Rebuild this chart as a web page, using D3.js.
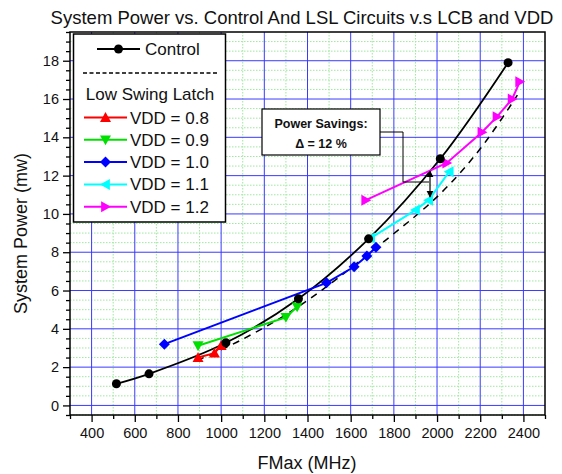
<!DOCTYPE html>
<html>
<head>
<meta charset="utf-8">
<script src="https://cdn.jsdelivr.net/npm/d3@7"></script>
<style>
  body { margin: 0; background: #fff; }
  svg text { font-family: "Liberation Sans", Arial, sans-serif; fill: #111; }
</style>
</head>
<body>
<svg id="chart" width="562" height="474"></svg>
<script>
// data (FMax in MHz, power in mW)
var control = [[515, 1.13], [666, 1.65], [1022, 3.27], [1358, 5.57], [1683, 8.7], [2015, 12.88], [2329, 17.9]];
var vdd08 = [[893, 2.5], [969, 2.73], [1000, 3.12]];
var vdd09 = [[893, 3.12], [1300, 4.6], [1352, 5.15]];
var vdd10 = [[737, 3.2], [1488, 6.4], [1616, 7.24], [1675, 7.8], [1717, 8.26]];
var vdd11 = [[1692, 8.74], [1900, 10.2], [1961, 10.72], [2056, 12.2]];
var vdd12 = [[1670, 10.72], [2045, 12.66], [2208, 14.27], [2278, 15.08], [2348, 16.0], [2383, 16.9]];
var lslFit = [[890, 2.35], [1090, 3.4], [1370, 5.25], [1770, 8.7], [2010, 11.0], [2200, 13.4], [2372, 16.2]];

var xTicks = [400, 600, 800, 1000, 1200, 1400, 1600, 1800, 2000, 2200, 2400];
var yTicks = [0, 2, 4, 6, 8, 10, 12, 14, 16, 18];

var series = [
  { name: "VDD = 0.8", data: vdd08, color: "#ff0000", sym: "up" },
  { name: "VDD = 0.9", data: vdd09, color: "#00e000", sym: "down" },
  { name: "VDD = 1.0", data: vdd10, color: "#0000ff", sym: "diamond" },
  { name: "VDD = 1.1", data: vdd11, color: "#00ffff", sym: "left" },
  { name: "VDD = 1.2", data: vdd12, color: "#ff00ff", sym: "right" }
];

var svg = d3.select("#chart");
var pLeft = 70, pRight = 545, pTop = 32, pBottom = 415;

var x = d3.scaleLinear().domain([300, 2500]).range([pLeft, pRight]);
var y = d3.scaleLinear().domain([-0.5, 19.5]).range([pBottom, pTop]);

// grid
var grid = svg.append("g");
grid.selectAll(".vminor").data(d3.range(500, 2500, 200)).enter().append("line")
  .attr("x1", d => x(d)).attr("x2", d => x(d)).attr("y1", pTop).attr("y2", pBottom)
  .attr("stroke", "#9ee89e").attr("stroke-width", 1).attr("stroke-dasharray", "1.5,1.5");
grid.selectAll(".hminor").data(d3.range(-0.5, 19.5, 0.5).filter(d => d % 2 != 0)).enter().append("line")
  .attr("x1", pLeft).attr("x2", pRight).attr("y1", d => y(d)).attr("y2", d => y(d))
  .attr("stroke", "#9ee89e").attr("stroke-width", 1).attr("stroke-dasharray", "1.5,1.5");
grid.selectAll(".vmajor").data(xTicks).enter().append("line")
  .attr("x1", d => x(d)).attr("x2", d => x(d)).attr("y1", pTop).attr("y2", pBottom)
  .attr("stroke", "#3a3aff").attr("stroke-width", 1);
grid.selectAll(".hmajor").data(yTicks).enter().append("line")
  .attr("x1", pLeft).attr("x2", pRight).attr("y1", d => y(d)).attr("y2", d => y(d))
  .attr("stroke", "#3a3aff").attr("stroke-width", 1);

// axes
svg.append("g").attr("transform", "translate(0," + pBottom + ")")
  .call(d3.axisBottom(x).tickValues(xTicks).tickFormat(d3.format("d")).tickSize(7).tickPadding(6).tickSizeOuter(0));
svg.append("g").attr("transform", "translate(0," + pBottom + ")")
  .call(d3.axisBottom(x).tickValues(d3.range(300, 2501, 100).filter(d => d % 200 != 0)).tickSize(4).tickFormat("").tickSizeOuter(0));
svg.append("g").attr("transform", "translate(" + pLeft + ",0)")
  .call(d3.axisLeft(y).tickValues(yTicks).tickSize(7).tickPadding(4).tickSizeOuter(0));
svg.append("g").attr("transform", "translate(" + pLeft + ",0)")
  .call(d3.axisLeft(y).tickValues(d3.range(-0.5, 19.6, 0.5).filter(d => d % 2 != 0)).tickSize(4).tickFormat("").tickSizeOuter(0));
svg.selectAll(".domain").remove();
svg.selectAll(".tick line").attr("stroke", "#000").attr("stroke-width", 1.3);
svg.selectAll(".tick text").style("font-size", "14.5px").style("font-family", "Liberation Sans, Arial, sans-serif").attr("fill", "#111");

svg.append("rect").attr("x", pLeft).attr("y", pTop).attr("width", pRight - pLeft).attr("height", pBottom - pTop)
  .attr("fill", "none").attr("stroke", "#000").attr("stroke-width", 1.5);

// symbols
function marker(g, sym, cx, cy, color, s) {
  s = s || 5.5;
  var pts;
  if (sym == "circle") {
    g.append("circle").attr("cx", cx).attr("cy", cy).attr("r", 4.5).attr("fill", color);
    return;
  }
  if (sym == "up") pts = [[0, -s], [s, s * 0.8], [-s, s * 0.8]];
  if (sym == "down") pts = [[0, s], [s, -s * 0.8], [-s, -s * 0.8]];
  if (sym == "left") pts = [[-s, 0], [s * 0.8, -s], [s * 0.8, s]];
  if (sym == "right") pts = [[s, 0], [-s * 0.8, -s], [-s * 0.8, s]];
  if (sym == "diamond") pts = [[0, -s], [s, 0], [0, s], [-s, 0]];
  g.append("polygon").attr("points", pts.map(p => (cx + p[0]) + "," + (cy + p[1])).join(" ")).attr("fill", color);
}

var line = d3.line().x(d => x(d[0])).y(d => y(d[1]));
var smooth = d3.line().x(d => x(d[0])).y(d => y(d[1])).curve(d3.curveCatmullRom.alpha(0.5));

var plot = svg.append("g");
plot.append("path").attr("d", smooth(lslFit)).attr("fill", "none")
  .attr("stroke", "#000").attr("stroke-width", 1.5).attr("stroke-dasharray", "7,6");
plot.append("path").attr("d", smooth(control)).attr("fill", "none")
  .attr("stroke", "#000").attr("stroke-width", 1.8);

series.forEach(function (s) {
  plot.append("path").attr("d", line(s.data)).attr("fill", "none")
    .attr("stroke", s.color).attr("stroke-width", 2);
  s.data.forEach(d => marker(plot, s.sym, x(d[0]), y(d[1]), s.color));
});
control.forEach(d => marker(plot, "circle", x(d[0]), y(d[1]), "#000"));

// annotation
var ann = svg.append("g");
ann.append("polyline")
  .attr("points", [[380, 132], [403, 132], [403, 182], [429, 182]].map(p => p.join(",")).join(" "))
  .attr("fill", "none").attr("stroke", "#000").attr("stroke-width", 1);
svg.append("defs").append("marker").attr("id", "ah").attr("viewBox", "0 0 10 10")
  .attr("refX", 9).attr("refY", 5).attr("markerWidth", 6).attr("markerHeight", 6).attr("orient", "auto-start-reverse")
  .append("path").attr("d", "M0,0 L10,5 L0,10 z").attr("fill", "#000");
ann.append("line").attr("x1", 430).attr("x2", 430).attr("y1", 171).attr("y2", 197)
  .attr("stroke", "#000").attr("stroke-width", 1.2)
  .attr("marker-start", "url(#ah)").attr("marker-end", "url(#ah)");
ann.append("rect").attr("x", 262).attr("y", 109).attr("width", 118).attr("height", 46)
  .attr("fill", "#fff").attr("stroke", "#000").attr("stroke-width", 1.2);
ann.append("text").attr("x", 321).attr("y", 128).attr("text-anchor", "middle")
  .style("font-size", "12.5px").style("font-weight", "bold").text("Power Savings:");
ann.append("text").attr("x", 321).attr("y", 148).attr("text-anchor", "middle")
  .style("font-size", "12.5px").style("font-weight", "bold").text("\u0394 = 12 %");

// legend
var lg = svg.append("g");
lg.append("rect").attr("x", 73.5).attr("y", 34).attr("width", 152).attr("height", 188)
  .attr("fill", "#fff").attr("stroke", "#000").attr("stroke-width", 1.5);
lg.append("line").attr("x1", 97).attr("x2", 140).attr("y1", 49).attr("y2", 49).attr("stroke", "#000").attr("stroke-width", 2);
marker(lg, "circle", 118.5, 49, "#000");
lg.append("text").attr("x", 145).attr("y", 55).style("font-size", "17px").text("Control");
lg.append("line").attr("x1", 83).attr("x2", 219).attr("y1", 73).attr("y2", 73)
  .attr("stroke", "#000").attr("stroke-width", 1.3).attr("stroke-dasharray", "4,2.5");
lg.append("text").attr("x", 150).attr("y", 100).attr("text-anchor", "middle").style("font-size", "17px").text("Low Swing Latch");
series.forEach(function (s, i) {
  var yy = 117.5 + i * 22.3;
  lg.append("line").attr("x1", 84).attr("x2", 127).attr("y1", yy).attr("y2", yy).attr("stroke", s.color).attr("stroke-width", 2);
  marker(lg, s.sym, 105.5, yy, s.color);
  lg.append("text").attr("x", 130).attr("y", yy + 6).style("font-size", "17px").text(s.name);
});

// titles
svg.append("text").attr("x", 302).attr("y", 24).attr("text-anchor", "middle").style("font-size", "18.5px")
  .text("System Power vs. Control And LSL Circuits v.s LCB and VDD");
svg.append("text").attr("x", 307).attr("y", 469).attr("text-anchor", "middle").style("font-size", "18px")
  .text("FMax (MHz)");
svg.append("text").attr("transform", "translate(27," + ((pTop + pBottom) / 2 + 10) + ") rotate(-90)")
  .attr("text-anchor", "middle").style("font-size", "18px").text("System Power (mw)");
</script>
</body>
</html>
